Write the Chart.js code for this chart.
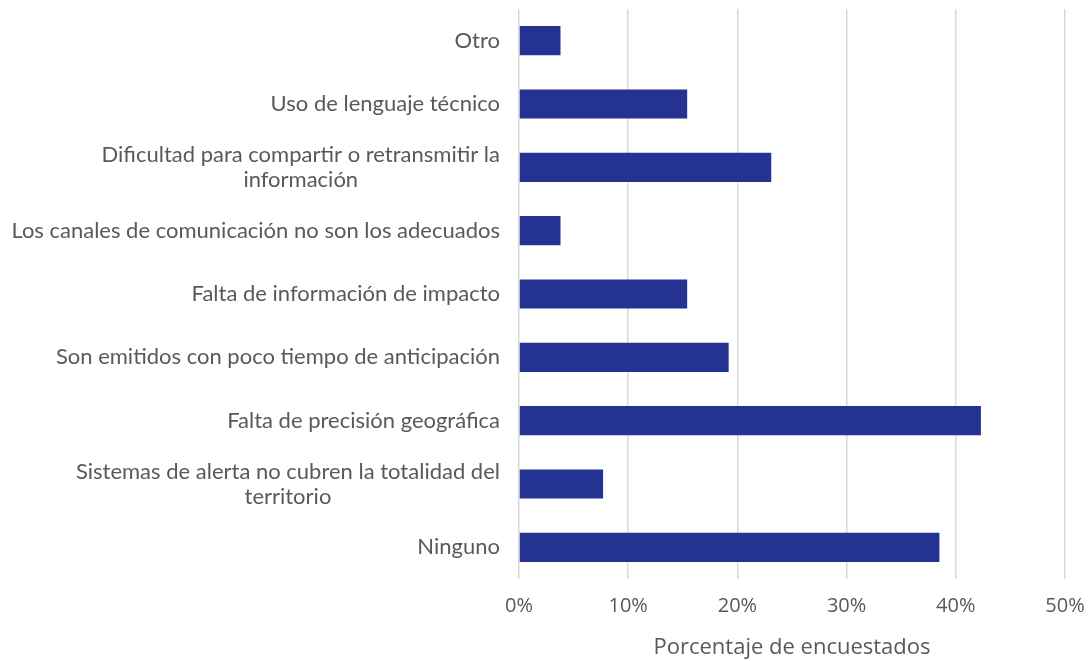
<!DOCTYPE html>
<html>
<head>
<meta charset="utf-8">
<script src="https://cdn.jsdelivr.net/npm/chart.js@4"></script>
<style>
  html, body { margin: 0; padding: 0; background: #fff; }
  #grafica { display: block; }
</style>
</head>
<body>
<canvas id="grafica" width="1090" height="661"></canvas>
<script>
// Motivos de los encuestados, de arriba hacia abajo
const CATEGORIAS = [
  "Otro",
  "Uso de lenguaje técnico",
  ["Dificultad para compartir o retransmitir la", "información"],
  "Los canales de comunicación no son los adecuados",
  "Falta de información de impacto",
  "Son emitidos con poco tiempo de anticipación",
  "Falta de precisión geográfica",
  ["Sistemas de alerta no cubren la totalidad del", "territorio"],
  "Ninguno"
]
const PORCENTAJES = [3.8, 15.4, 23.1, 3.8, 15.4, 19.2, 42.3, 7.7, 38.5]
const TICKS_X = [0, 10, 20, 30, 40, 50]
const TITULO_X = "Porcentaje de encuestados"

const GRIS = '#595959'
const AZUL = '#243291'
const FUENTE_ETIQUETAS = '22px Lato'
const ALTO_LINEA = 25

// Etiquetas del eje Y: bloque alineado a la derecha, renglones centrados entre si
const etiquetasCentradas = {
  id: 'etiquetasCentradas',
  afterDraw(chart) {
    const eje = chart.scales.y
    const c = chart.ctx
    const borde = chart.chartArea.left - 19
    c.save()
    c.font = FUENTE_ETIQUETAS
    c.fillStyle = GRIS
    c.textAlign = 'center'
    c.textBaseline = 'middle'
    chart.data.labels.forEach((etiqueta, i) => {
      const lineas = Array.isArray(etiqueta) ? etiqueta : [etiqueta]
      const ancho = Math.max(...lineas.map(l => c.measureText(l).width))
      const cx = borde - ancho / 2
      const cy = eje.getPixelForValue(i)
      const y0 = cy - (lineas.length - 1) * ALTO_LINEA / 2
      lineas.forEach((l, j) => c.fillText(l, cx, y0 + j * ALTO_LINEA))
    })
    c.restore()
  }
}

const ctx = document.getElementById('grafica').getContext('2d')

new Chart(ctx, {
  type: 'bar',
  data: {
    labels: CATEGORIAS,
    datasets: [{
      label: TITULO_X,
      data: PORCENTAJES,
      backgroundColor: AZUL,
      borderWidth: 0,
      barPercentage: 0.46,
      categoryPercentage: 1
    }]
  },
  options: {
    indexAxis: 'y',
    responsive: false,
    animation: false,
    layout: { padding: { top: 9, right: 25, bottom: 0, left: 0 } },
    plugins: {
      legend: { display: false },
      tooltip: { enabled: false }
    },
    scales: {
      x: {
        min: TICKS_X[0],
        max: TICKS_X[TICKS_X.length - 1],
        afterBuildTicks(eje) {
          eje.ticks = TICKS_X.map(v => ({ value: v }))
        },
        afterFit(eje) {
          eje.height = 82
          eje.paddingLeft = 0
          eje.paddingRight = 0
        },
        grid: { color: '#d9d9d9', lineWidth: 1.5, drawTicks: false },
        border: { display: false },
        ticks: {
          color: GRIS,
          padding: 15,
          font: { family: 'Open Sans', size: 20 },
          callback: v => v + '%'
        },
        title: {
          display: true,
          text: TITULO_X,
          color: GRIS,
          font: { family: 'Open Sans', size: 22 },
          padding: { top: 0, bottom: 0 }
        }
      },
      y: {
        afterFit(eje) {
          eje.width = 519
          eje.paddingTop = 0
          eje.paddingBottom = 0
        },
        grid: { display: false },
        border: { display: false },
        ticks: { display: false }
      }
    }
  },
  plugins: [etiquetasCentradas]
})
</script>
</body>
</html>
